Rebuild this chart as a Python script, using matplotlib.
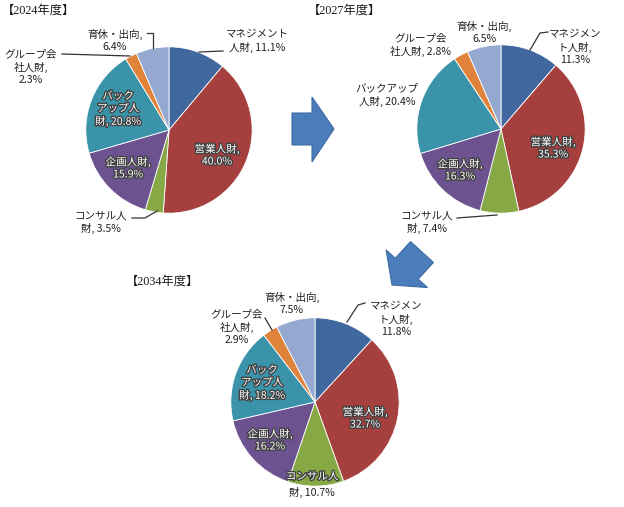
import matplotlib
matplotlib.use("Agg")
import matplotlib.pyplot as plt
import matplotlib.patheffects as pe
from matplotlib.patches import Polygon, FancyArrow

plt.rcParams['font.family'] = ['Noto Sans CJK JP', 'DejaVu Sans']

# data
categories = ["マネジメント人財", "営業人財", "コンサル人財", "企画人財",
              "バックアップ人財", "グループ会社人財", "育休・出向"]
years = ["2024", "2027", "2034"]
share_2024 = [11.1, 40.0, 3.5, 15.9, 20.8, 2.3, 6.4]
share_2027 = [11.3, 35.3, 7.4, 16.3, 20.4, 2.8, 6.5]
share_2034 = [11.8, 32.7, 10.7, 16.2, 18.2, 2.9, 7.5]

colors = ['#41689E', '#A6403F', '#86A845', '#6D5290', '#3A93A8', '#E0833A', '#95A9D0']

# label text as drawn (line breaks differ per chart)
fmt_2024 = ["マネジメント\n人財, {}", "営業人財,\n{}", "コンサル人\n財, {}", "企画人財,\n{}",
            "バック\nアップ人\n財, {}", "グループ会\n社人財,\n{}", "育休・出向,\n{}"]
fmt_2027 = ["マネジメン\nト人財,\n{}", "営業人財,\n{}", "コンサル人\n財, {}", "企画人財,\n{}",
            "バックアップ\n人財, {}", "グループ会\n社人財, {}", "育休・出向,\n{}"]
fmt_2034 = ["マネジメン\nト人財,\n{}", "営業人財,\n{}", "コンサル人\n財, {}", "企画人財,\n{}",
            "バック\nアップ人\n財, {}", "グループ会\n社人財,\n{}", "育休・出向,\n{}"]

W, H = 624, 507
fig = plt.figure(figsize=(W / 100, H / 100), dpi=100)

# layout (pixels)
charts = [
    dict(year=years[0], vals=share_2024, fmt=fmt_2024, c=(169, 130), r=84, title=(2, 11),
         pos=[(257, 41), (217, 155), (101, 222), (128, 168), (118, 109), (31, 67), (115, 40)],
         inside=[1, 3, 4],
         leaders=[[(199, 52), (223, 51)], [(157, 211), (145, 218), (132, 218)],
                  [(62, 54), (130, 56)], [(147, 33), (153, 33), (153, 48)]]),
    dict(year=years[1], vals=share_2027, fmt=fmt_2027, c=(501, 129), r=85, title=(308, 11),
         pos=[(575, 47), (553, 148), (427, 222), (460, 170), (387, 95), (421, 45), (484, 32)],
         inside=[1, 3],
         leaders=[[(530, 50), (540, 33), (548, 32)], [(457, 218), (497, 215)]]),
    dict(year=years[2], vals=share_2034, fmt=fmt_2034, c=(315, 402), r=85, title=(126, 282),
         pos=[(396, 319), (365, 418), (312, 484), (270, 440), (262, 383), (237, 327), (292, 303)],
         inside=[1, 3, 4],
         leaders=[[(347, 322), (358, 305), (365, 303)], [(265, 318), (272, 330)]]),
]

glow = [pe.withStroke(linewidth=1.9, foreground='#404040')]

for ch in charts:
    cx, cy = ch['c']
    r = ch['r']
    ax = fig.add_axes([(cx - r) / W, 1 - (cy + r) / H, 2 * r / W, 2 * r / H])
    ax.pie(ch['vals'], colors=colors, startangle=90, counterclock=False,
           wedgeprops=dict(edgecolor='white', linewidth=0.6))
    ax.set_xlim(-1.01, 1.01)
    ax.set_ylim(-1.01, 1.01)
    ax.set_aspect('equal')
    ax.axis('off')

ov = fig.add_axes([0, 0, 1, 1])
ov.set_xlim(0, W)
ov.set_ylim(H, 0)
ov.axis('off')
ov.set_zorder(10)
ov.patch.set_visible(False)

for ch in charts:
    ov.text(ch['title'][0], ch['title'][1], "【%s年度】" % ch['year'], fontsize=8.8,
            family=['Liberation Serif', 'Noto Sans CJK JP'], ha='left', va='center',
            color='#1a1a1a')
    for i, v in enumerate(ch['vals']):
        s = ch['fmt'][i].format("%.1f%%" % v)
        x, y = ch['pos'][i]
        if ch['year'] == '2034' and i == 2:
            top, bottom = s.split("\n")
            ov.text(x, y - 7.5, top, fontsize=7.6, ha='center', va='center', color='white',
                    path_effects=glow)
            ov.text(x, y + 8, bottom, fontsize=7.6, ha='center', va='center', color='#222222')
            continue
        if i in ch['inside']:
            ov.text(x, y, s, fontsize=7.6, ha='center', va='center', color='white',
                    linespacing=1.25, path_effects=glow)
        else:
            ov.text(x, y, s, fontsize=7.6, ha='center', va='center', color='#222222',
                    linespacing=1.25)
    for ln in ch['leaders']:
        xs = [p[0] for p in ln]
        ys = [p[1] for p in ln]
        ov.plot(xs, ys, color='#333333', lw=0.9)

# arrows
ov.add_patch(Polygon([(292, 113), (312, 113), (312, 97), (334, 129), (312, 162), (312, 145), (292, 145)],
                     closed=True, facecolor='#4A7DBA', edgecolor='#3F6CA3', lw=0.8))
ov.add_patch(FancyArrow(422, 252, -30, 33, width=31, head_width=56, head_length=22,
                        length_includes_head=True, facecolor='#4A7DBA', edgecolor='#3F6CA3', lw=0.8))

fig.savefig("out.png", dpi=100)
